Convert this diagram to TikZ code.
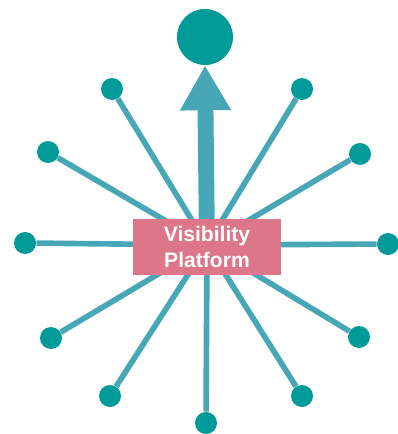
\documentclass[tikz,border=0pt]{standalone}
\usepackage{fontspec}
\setmainfont{Liberation Sans}
\usepackage{tikz}
\usetikzlibrary{arrows.meta}
\definecolor{dotteal}{HTML}{009A98}
\definecolor{spoke}{HTML}{48A7B6}
\definecolor{boxpink}{HTML}{DC7688}

\begin{document}
\begin{tikzpicture}[x = 0.025cm, y = -0.025cm,
		dot/.style = {circle, fill = dotteal, inner sep = 0pt, minimum size = 22*0.025cm},
		spokeline/.style = {draw = spoke, line width = 4pt}]
				\useasboundingbox (0,0) rectangle (398,434);
				\coordinate (hub) at (207,245);
				\node [circle, fill = dotteal, inner sep = 0pt, minimum size = 56*0.025cm] (goal) at (205,37){};
				\foreach \name/\x/\y in {ul/112/89, ur/302/89, lu/48/152, ru/360/154, l/25/243, r/388/244,
						ld/51/338, rd/359/337, dl/110/396, dr/302/396, d/206/423}
					{
					\node [dot] (\name) at (\x,\y){};
					\draw [spokeline] (hub) -- (\name);
					}
				\draw [spoke, line width = 11.3pt, -{Triangle[width = 34pt, length = 32pt]}] (hub) -- (goal.south);
				\node [fill = boxpink, minimum width = 148*0.025cm, minimum height = 56*0.025cm, text = white,
						font = \fontsize{15}{18.4}\selectfont\bfseries, align = center, inner sep = 0pt] (platform) at (207,247){Visibility\\Platform};
		\end{tikzpicture}
\end{document}
